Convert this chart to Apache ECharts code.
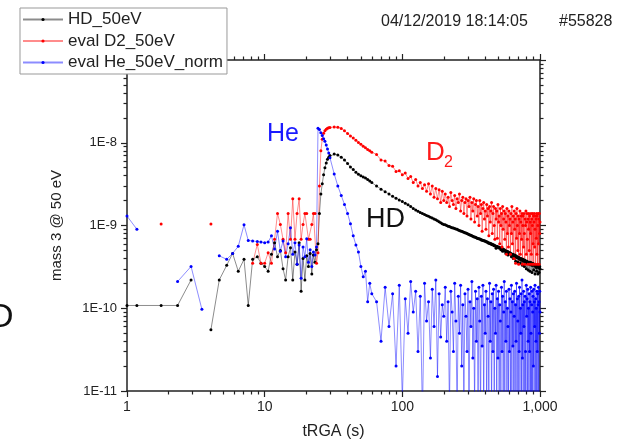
<!DOCTYPE html>
<html>
<head>
<meta charset="utf-8">
<script src="https://cdn.jsdelivr.net/npm/echarts@6.0.0/dist/echarts.min.js"></script>
<style>
html,body{margin:0;padding:0;background:#fff;}
#hisEcharts{width:626px;height:441px;}
</style>
</head>
<body>
<div id="hisEcharts"></div>
<script>
// time axis (s), shared by all three traces
var timeS = [1, 1.18, 1.77, 2.33, 2.92, 3.5, 4.07, 4.68, 5.3, 5.85,
    6.43, 7.08, 7.6, 8.18, 8.84, 9.4, 10, 10.6, 11.2, 11.8,
    12.4, 13, 13.6, 14.2, 14.8, 15.4, 16, 16.6, 17.2, 17.8,
    18.4, 19, 19.6, 20.2, 20.8, 21.4, 22, 22.6, 23.2, 23.8,
    24.4, 25, 25.6, 26.2, 26.8, 27.4, 28, 28.6, 29.2, 29.8,
    32, 34, 36, 38, 40, 42, 44, 46, 48, 50, 52, 54, 56, 58, 60,
    65, 70, 75, 80, 85, 90, 95, 100, 105, 110, 115, 120, 125, 130,
    135, 140, 145, 150, 155, 160, 165, 170, 175, 180, 185, 190, 195, 200,
    205, 210, 215, 220, 225, 230, 235, 240, 245, 250,
    255, 260, 265, 270, 275, 280, 285, 290, 295, 300,
    305, 310, 315, 320, 325, 330, 335, 340, 345, 350,
    355, 360, 365, 370, 375, 380, 385, 390, 395, 400,
    405, 410, 415, 420, 425, 430, 435, 440, 445, 450,
    455, 460, 465, 470, 475, 480, 485, 490, 495, 500,
    505, 510, 515, 520, 525, 530, 535, 540, 545, 550,
    555, 560, 565, 570, 575, 580, 585, 590, 595, 600,
    605, 610, 615, 620, 625, 630, 635, 640, 645, 650,
    655, 660, 665, 670, 675, 680, 685, 690, 695, 700,
    705, 710, 715, 720, 725, 730, 735, 740, 745, 750,
    755, 760, 765, 770, 775, 780, 785, 790, 795, 800,
    805, 810, 815, 820, 825, 830, 835, 840, 845, 850,
    855, 860, 865, 870, 875, 880, 885, 890, 895, 900,
    905, 910, 915, 920, 925, 930, 935, 940, 945, 950,
    955, 960, 965, 970, 975, 980, 985, 990, 995, 1000];

// values in units of 1E-10, null = no sample
var hd = [1.08, 1.08, 1.08, 1.08, 2.2, null, 0.55, 2.2, 3.3, 4.6,
    2.8, 3.9, 1.08, 3.9, 4.2, 3.5, 3.2, 2.8, 4.5, 6.2,
    4.2, 5.0, 3.0, 2.2, 4.2, 5.4, 2.2, 4.8, 3.4, 6.2,
    1.6, 4.0, 2.2, 4.3, 3.2, 4.6, 2.6, 4.4, 3.6, 5.1,
    6, 14, 24, 32, 41, 50, 57, 63, 67, 70,
    73, 71, 67, 62, 56, 51, 47.5, 44, 41.5, 40, 38.5, 37.5, 36, 34.5, 33,
    30, 27.5, 25.5, 24, 22.5, 21.3, 20.4, 19.5, 18.6, 17.8, 17, 16.1, 15.4, 14.9,
    14.4, 14, 13.6, 13.2, 12.9, 12.6, 12.3, 12, 11.7, 11.4, 11.1, 10.8, 10.5, 10.3,
    10.2, 10.0, 9.8, 9.7, 9.5, 9.4, 9.3, 9.2, 9.1, 9.0,
    8.8, 8.7, 8.6, 8.5, 8.4, 8.3, 8.2, 8.1, 8.0, 7.9,
    7.8, 7.7, 7.6, 7.5, 7.4, 7.3, 7.25, 7.2, 7.1, 7.0,
    6.95, 6.9, 6.85, 6.8, 6.7, 6.7, 6.6, 6.6, 6.5, 6.5,
    6.4, 6.3, 6.3, 6.2, 6.1, 6.15, 6.0, 6.05, 5.9, 5.95,
    5.8, 5.85, 5.7, 5.75, 5.6, 5.3, 5.6, 5.5, 5.55, 5.4,
    5.45, 5.3, 5.4, 5.1, 5.3, 5.2, 4.9, 5.2, 5.0, 5.1,
    4.9, 5.0, 4.6, 4.9, 4.8, 4.9, 4.4, 4.8, 4.7, 4.6,
    4.7, 4.5, 4.6, 4.2, 4.5, 4.4, 4.5, 4.0, 4.4, 4.3,
    4.4, 4.2, 3.7, 4.3, 4.2, 4.1, 4.2, 3.6, 4.1, 4.0,
    4.1, 3.9, 4.0, 3.5, 3.9, 4.0, 3.8, 3.9, 3.3, 3.8,
    3.9, 3.7, 3.8, 3.2, 3.7, 3.8, 3.6, 3.7, 3.0, 3.6,
    3.7, 3.5, 3.6, 2.9, 3.6, 3.5, 3.6, 3.4, 2.8, 3.5,
    3.6, 3.4, 3.5, 3.3, 2.7, 3.4, 3.5, 3.3, 3.4, 2.9,
    3.4, 3.3, 3.4, 2.6, 3.3, 3.2, 3.3, 3.1, 2.8, 3.3,
    3.2, 3.3, 2.6, 3.2, 3.1, 3.2, 2.7, 3.1, 3.2, 3.0];

var d2 = [null, null, 10.4, null, null, null, 10.4, null, null, null,
    null, null, null, 3.5, 5.9, 3.5, 3.5, 4.7, 3.5, 6.8,
    14, 10.3, 6.8, 4.7, 14, 6.8, 21, 6.8, 14, 21,
    6.8, 10.3, 14, 14, 6.8, 6.8, 10.3, 14, 14, 3.5,
    4.7, 30, 80, 110, 130, 140, 146, 150, 152, 153,
    155, 154, 149, 140, 129, 121, 114, 107, 101, 96, 91, 87, 83, 80, 77,
    72, 62, 60, 53, 52, 45, 46, 41, 43, 37, 39, 33, 36, 30,
    33, 28, 31, 26, 32, 24, 30, 22, 28, 21, 27, 19, 26, 20,
    24, 19, 22, 17, 25, 20, 18, 23, 16, 21,
    19, 24, 15, 20, 22, 14, 19, 21, 13, 20,
    17, 22, 12, 19, 15, 21, 11, 18, 20, 13,
    17, 10, 20, 14, 18, 8.5, 16, 19, 12, 15,
    9, 18, 13, 16, 7.5, 17, 11, 15, 19, 8,
    14, 17, 10, 6.8, 16, 12, 15, 7, 18, 11,
    13, 6, 16, 10, 14, 5.5, 17, 9, 12, 15,
    6.8, 14, 11, 4.5, 16, 8, 13, 5.5, 15, 10,
    12, 4.5, 14, 8, 17, 6, 11, 13, 4, 15,
    9, 12, 3.5, 14, 7, 16, 10, 5, 13, 3.4,
    12, 8, 15, 4.5, 11, 13, 6.8, 14, 3.4, 10,
    13, 5.5, 14, 8, 3.4, 12, 10, 15, 4.5, 11,
    14, 6.8, 3.4, 12, 9, 14, 5, 13, 3.4, 11,
    8, 14, 4.5, 12, 3.4, 10, 14, 6, 13, 3.4,
    11, 14, 5.5, 9, 13, 3.4, 12, 7, 14, 4.5,
    13, 3.4, 10, 14, 6, 12, 3.4, 14, 8, 11];

var he = [13, 9, null, 2.1, 3.2, 0.97, null, 4.3, 3.9, 4.6,
    5.6, 10.2, 6.6, 6.5, 6.4, 6.3, 6.2, 6.3, 7.5, 5.2,
    8.5, 4.9, 6.5, 4.2, 6.0, 9.4, 4.5, 6.2, 3.4, 5.8,
    2.3, 5.5, 4.2, 6.9, 3.6, 5.1, 3.2, 4.8, 4.4, 5.5,
    150, 145, 132, 122, 112, 104, 94, 84, 75, 66,
    42, 30, 23, 18, 14, 10.5, 7.5, 5.8, 4.8, 3.2, 2.4, 2.8, 1.2, 2.0, 1.5,
    1.2, 0.4, 1.8, 0.6, 1.5, 0.2, 1.9, 0.08, 1.3, 0.5, 2.1, 0.9, 1.6, 0.3,
    1.4, 0.05, 2.0, 0.7, 1.2, 0.25, 1.7, 0.6, 2.2, 0.15, 1.5, 0.45, 1.1, 0.8,
    1.8, 0.4, 1.2, 0.06, 1.6, 0.9, 0.3, 2.0, 0.7, 0.05,
    1.4, 0.5, 1.9, 0.2, 1.1, 0.07, 1.5, 0.8, 0.3, 1.7,
    0.05, 1.2, 0.6, 2.1, 0.25, 1.0, 0.06, 1.6, 0.4, 1.3,
    0.08, 1.8, 0.7, 0.05, 1.4, 0.35, 1.9, 0.06, 1.1, 0.5,
    1.6, 0.05, 1.3, 0.8, 0.07, 2.0, 0.4, 1.2, 0.05, 1.5,
    0.3, 1.7, 0.06, 1.0, 0.5, 1.9, 0.05, 1.3, 0.25, 1.6,
    0.05, 1.1, 0.7, 0.06, 1.8, 0.3, 1.4, 0.05, 0.9, 2.1,
    0.08, 1.2, 0.4, 1.6, 0.05, 1.0, 0.6, 0.06, 1.7, 0.3,
    1.3, 0.05, 0.9, 1.9, 0.07, 1.2, 0.35, 1.5, 0.05, 0.8,
    1.6, 0.06, 1.1, 0.4, 2.0, 0.05, 1.3, 0.7, 0.06, 1.4,
    0.3, 1.8, 0.05, 1.0, 0.5, 1.5, 0.07, 2.2, 0.25, 1.1,
    0.05, 1.6, 0.6, 1.2, 0.06, 1.4, 0.3, 0.05, 1.9, 0.8,
    1.3, 0.05, 1.7, 0.4, 1.0, 0.06, 1.5, 0.3, 1.2, 0.05,
    1.8, 0.5, 0.07, 1.1, 1.6, 0.05, 0.9, 1.4, 0.2, 1.7,
    0.06, 1.2, 0.6, 1.9, 0.05, 1.3, 0.4, 1.0, 0.06, 1.6,
    0.3, 1.5, 0.05, 1.1, 1.8, 0.07, 1.2, 0.5, 1.6, 0.9];

var seriesNames = ['HD_50eV', 'eval D2_50eV', 'eval He_50eV_norm'];

var xMajor = [1, 10, 100, 1000];
var xMinor = [2, 3, 4, 5, 6, 7, 8, 9, 20, 30, 40, 50, 60, 70, 80, 90, 200, 300, 400, 500, 600, 700, 800, 900];
var yMajor = [1e-11, 1e-10, 1e-9, 1e-8, 1e-7];
var yLabeled = [1e-11, 1e-10, 1e-9, 1e-8];
var yMinor = [2e-11, 3e-11, 4e-11, 5e-11, 6e-11, 7e-11, 8e-11, 9e-11,
    2e-10, 3e-10, 4e-10, 5e-10, 6e-10, 7e-10, 8e-10, 9e-10,
    2e-9, 3e-9, 4e-9, 5e-9, 6e-9, 7e-9, 8e-9, 9e-9,
    2e-8, 3e-8, 4e-8, 5e-8, 6e-8, 7e-8, 8e-8, 9e-8];

var font = 'Liberation Sans, Arial, sans-serif';
var axisColor = '#222';

function pairs(vals){
    var out = [];
    for(var i = 0; i < timeS.length; i++){
        var v = vals[i];
        out.push([timeS[i], v == null ? '-' : v * 1e-10]);
    }
    return out;
}

function tickAxis(pos, min, max, ticks, len, showLine){
    return {
        type: 'log',
        logBase: 10,
        position: pos,
        min: min,
        max: max,
        axisLine: {show: showLine, onZero: false, lineStyle: {color: axisColor, width: 1.5}},
        axisTick: {show: true, customValues: ticks, length: len, lineStyle: {color: axisColor, width: 1.2}},
        axisLabel: {show: false},
        splitLine: {show: false},
        minorTick: {show: false}
    };
}

var xMain = tickAxis('bottom', 1, 1000, xMajor, 6, true);
xMain.axisLabel = {show: true, customValues: xMajor, fontSize: 14, color: axisColor, fontFamily: font, margin: 9};
xMain.name = 'tRGA (s)';
xMain.nameLocation = 'middle';
xMain.nameGap = 33;
xMain.nameTextStyle = {fontSize: 16, color: axisColor, fontFamily: font};

var yMain = tickAxis('left', 1e-11, 1e-7, yMajor, 6, true);
yMain.axisLabel = {
    show: true, customValues: yLabeled, fontSize: 13, color: axisColor, fontFamily: font, margin: 10,
    formatter: function(v){ return '1E' + Math.round(Math.log10(v)); }
};
yMain.name = 'mass 3 @ 50 eV';
yMain.nameLocation = 'middle';
yMain.nameGap = 63;
yMain.nameTextStyle = {fontSize: 15, color: axisColor, fontFamily: font};

var myChart = echarts.init(document.getElementById('hisEcharts'), null, {renderer: 'canvas'});

function lineSeries(name, vals, dot, line){
    return {
        name: name,
        type: 'line',
        xAxisIndex: 0,
        yAxisIndex: 0,
        data: pairs(vals),
        symbol: 'circle',
        symbolSize: 3,
        showAllSymbol: true,
        connectNulls: false,
        clip: true,
        itemStyle: {color: dot},
        lineStyle: {color: line, width: 1},
        emphasis: {disabled: true}
    };
}

var option = {
    animation: false,
    backgroundColor: '#fff',
    textStyle: {fontFamily: font},
    grid: {left: 127, right: 86, top: 60, bottom: 50, outerBoundsMode: 'none'},
    legend: {
        data: seriesNames,
        orient: 'vertical',
        left: 20,
        top: 8,
        padding: [2, 4, 2, 2],
        itemWidth: 40,
        itemHeight: 4,
        itemGap: 2.5,
        backgroundColor: '#fff',
        borderColor: '#999',
        borderWidth: 1,
        z: 20,
        textStyle: {fontSize: 17, color: axisColor, fontFamily: font, lineHeight: 19}
    },
    xAxis: [
        xMain,
        tickAxis('bottom', 1, 1000, xMinor, 3.5, false),
        tickAxis('top', 1, 1000, xMajor, 6, true),
        tickAxis('top', 1, 1000, xMinor, 3.5, false)
    ],
    yAxis: [
        yMain,
        tickAxis('left', 1e-11, 1e-7, yMinor, 3.5, false),
        tickAxis('right', 1e-11, 1e-7, yMajor, 6, true),
        tickAxis('right', 1e-11, 1e-7, yMinor, 3.5, false)
    ],
    graphic: [
        {type: 'text', x: 381, y: 14, style: {text: '04/12/2019 18:14:05', font: '16px ' + font, fill: axisColor}},
        {type: 'text', x: 559, y: 14, style: {text: '#55828', font: '16px ' + font, fill: axisColor}},
        {type: 'text', x: 267, y: 122, z: 30, style: {text: 'He', font: '25px ' + font, fill: '#1a1aff'}},
        {type: 'text', x: 426, y: 140, z: 30, style: {text: 'D', font: '26px ' + font, fill: '#ff1a1a'}},
        {type: 'text', x: 444, y: 155, z: 30, style: {text: '2', font: '16px ' + font, fill: '#ff1a1a'}},
        {type: 'text', x: 366, y: 206, z: 30, style: {text: 'HD', font: '27px ' + font, fill: '#111'}},
        {type: 'text', x: -11, y: 301, style: {text: 'D', font: '34px ' + font, fill: '#111'}}
    ],
    series: [
        lineSeries(seriesNames[0], hd, '#000000', 'rgba(0,0,0,0.45)'),
        lineSeries(seriesNames[1], d2, '#ff0000', 'rgba(255,0,0,0.45)'),
        lineSeries(seriesNames[2], he, '#0000ff', 'rgba(0,0,255,0.45)')
    ]
};
myChart.setOption(option);
</script>
</body>
</html>
